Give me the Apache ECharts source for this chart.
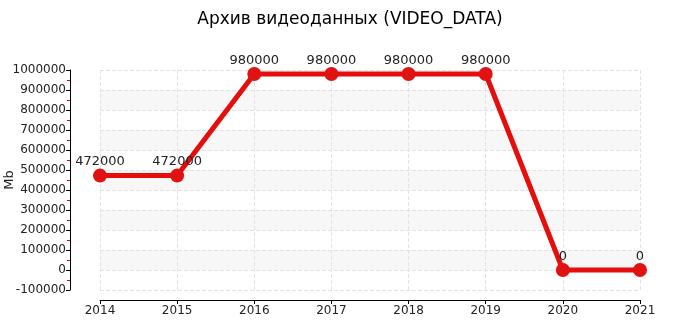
<!DOCTYPE html>
<html>
<head>
<meta charset="utf-8">
<script src="https://cdn.jsdelivr.net/npm/echarts@6/dist/echarts.min.js"></script>
<style>
html,body{margin:0;padding:0;background:#fff;}
#chart{width:700px;height:325px;}
</style>
</head>
<body>
<div id="chart"></div>
<script>
const categories = ['2014','2015','2016','2017','2018','2019','2020','2021'];
const values = [472000, 472000, 980000, 980000, 980000, 980000, 0, 0];
const titleText = 'Архив видеоданных (VIDEO_DATA)';
const yName = 'Mb';

const chart = echarts.init(document.getElementById('chart'), null, {renderer:'canvas'});
const font = 'DejaVu Sans';
chart.setOption({
  animation: false,
  backgroundColor: '#fff',
  title: {
    text: titleText, left: 'center', top: 6,
    textStyle: {fontFamily: font, fontSize: 17, fontWeight: 'normal', color: '#000'}
  },
  grid: {left: 100, right: 60, top: 70, bottom: 35, containLabel: false, outerBoundsMode: 'none'},
  xAxis: {
    type: 'category', data: categories, boundaryGap: false, offset: 10,
    axisLine: {onZero: false, lineStyle: {color: '#000', width: 1}},
    axisTick: {show: true, length: 4, alignWithLabel: true, lineStyle: {color: '#000'}},
    axisLabel: {fontFamily: font, fontSize: 12, color: '#222', margin: 5},
    splitLine: {show: true, lineStyle: {color: '#e3e3e3', type: 'dashed'}}
  },
  yAxis: {
    type: 'value', min: -100000, max: 1000000, interval: 100000, offset: 30,
    name: yName, nameLocation: 'middle', nameGap: 54, nameMoveOverlap: false,
    nameTextStyle: {fontFamily: font, fontSize: 13, color: '#222'},
    axisLine: {show: true, lineStyle: {color: '#000', width: 1}},
    axisTick: {show: true, length: 4, lineStyle: {color: '#000', width: 1}},
    minorTick: {show: true, splitNumber: 2, length: 3, lineStyle: {color: '#e00000'}},
    axisLabel: {fontFamily: font, fontSize: 12, color: '#222', margin: 4, formatter: v => String(v)},
    splitLine: {show: true, lineStyle: {color: '#e3e3e3', type: 'dashed'}},
    splitArea: {show: true, areaStyle: {color: ['#ffffff', '#f7f7f7']}}
  },
  series: [{
    type: 'line', data: values,
    symbol: 'circle', symbolSize: 14,
    lineStyle: {color: '#e60d0d', width: 5},
    itemStyle: {color: '#e01212'},
    label: {show: true, position: 'top', distance: 0, fontFamily: font, fontSize: 13, color: '#222', formatter: p => String(p.value)}
  }]
});
</script>
</body>
</html>
